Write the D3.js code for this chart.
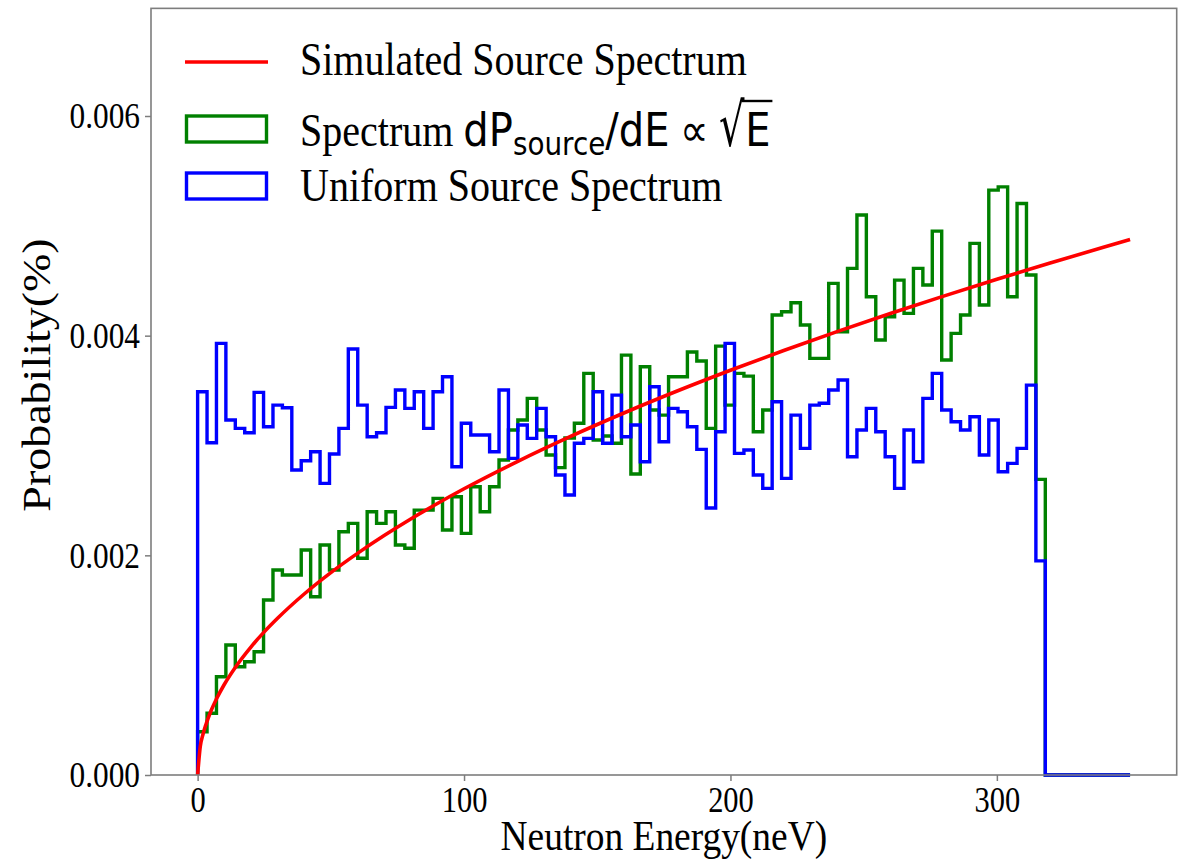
<!DOCTYPE html>
<html><head><meta charset="utf-8">
<script src="https://cdn.jsdelivr.net/npm/d3@7"></script>
<style>body{margin:0;background:#fff} svg{display:block}</style>
</head><body>
<svg id="chart" width="1180" height="860"></svg>
<script>
// ---------------- data ----------------
const xTicks = [0, 100, 200, 300];
const yTicks = [0, 0.002, 0.004, 0.006];
const yTickLabels = ["0.000", "0.002", "0.004", "0.006"];
const xLabel = "Neutron Energy(neV)";
const yLabel = "Probability(%)";
const seriesNames = ["Simulated Source Spectrum", "Spectrum", "Uniform Source Spectrum"];
const energyRange = [0, 350];
const binCount = 99;

// histogram heights per bin (0..350 neV, 99 bins)
const uniformSpectrum = [
0.003489,0.003025,0.003930,0.003232,0.003156,0.003116,0.003484,0.003171,0.003368,0.003344,
0.002777,0.002861,0.002943,0.002655,0.002922,0.003156,0.003878,0.003368,0.003080,0.003116,
0.003347,0.003505,0.003338,0.003489,0.003156,0.003489,0.003626,0.002807,0.003202,0.003095,
0.003095,0.002943,0.003505,0.002883,0.003186,0.003065,0.003338,0.003080,0.002731,0.002549,
0.003020,0.003065,0.003489,0.003020,0.003459,0.003080,0.003186,0.002852,0.003535,0.003034,
0.003338,0.003307,0.003171,0.002965,0.002431,0.003125,0.003930,0.002928,0.002959,0.002731,
0.002610,0.003398,0.002701,0.003277,0.002974,0.003368,0.003384,0.003505,0.003596,0.002898,
0.003141,0.003338,0.003125,0.002898,0.002610,0.003141,0.002852,0.003429,0.003657,0.003323,
0.003216,0.003141,0.003262,0.002913,0.003232,0.002761,0.002837,0.002974,0.003550,0.001950,
0,0,0,0,0,0,0,0,0];

const sqrtSpectrum = [
0.000394,0.000562,0.000895,0.001183,0.000986,0.001031,0.001122,0.001593,0.001866,0.001821,
0.001821,0.002048,0.001623,0.002094,0.001866,0.002215,0.002291,0.001973,0.002397,0.002291,
0.002397,0.002094,0.002064,0.002412,0.002412,0.002519,0.002230,0.002533,0.002200,0.002624,
0.002397,0.002624,0.002868,0.003141,0.003232,0.003429,0.003141,0.002913,0.002799,0.003068,
0.003202,0.003657,0.003050,0.003086,0.003020,0.003823,0.002740,0.003717,0.003323,0.003277,
0.003626,0.003626,0.003851,0.003769,0.003156,0.003905,0.003368,0.003657,0.003632,0.003125,
0.003323,0.004188,0.004218,0.004300,0.004097,0.003793,0.003793,0.004476,0.004035,0.004613,
0.005098,0.004354,0.003960,0.004172,0.004506,0.004203,0.004613,0.004461,0.004952,0.003778,
0.004021,0.004188,0.004840,0.004279,0.005325,0.005355,0.004354,0.005204,0.004552,0.002692,
0,0,0,0,0,0,0,0,0];

// simulated source spectrum (red curve)
const curveEnergy = [0,1,2,3,5,7,10,15,20,25,30,40,50,60,70,80,90,100,120,140,160,180,200,220,240,260,280,300,320,340,350];
const curveProb   = [0,0.000261,0.000369,0.000451,0.000583,0.000689,0.000824,0.001009,0.001165,0.001303,0.001427,
  0.001648,0.001843,0.002018,0.002180,0.002331,0.002472,0.002606,0.002854,0.003083,0.003296,0.003496,
  0.003685,0.003865,0.004037,0.004202,0.004360,0.004513,0.004661,0.004805,0.004875];

// ---------------- drawing ----------------
const SX = 0.87;                       // horizontal squeeze of the original image
const SERIF = "'Liberation Serif','Times New Roman',serif";
const SANS = "'DejaVu Sans',sans-serif";
const FRAME = "#7d7d7d";
const svg = d3.select("#chart");

const x = d3.scaleLinear().domain([-17.5, 367.5]).range([151, 1176.7]);
const y = d3.scaleLinear().domain([0, 0.006]).range([775, 116]);
const yTopVal = 0.00698;

const edges = d3.range(binCount + 1).map(i => energyRange[0] + i * (energyRange[1] - energyRange[0]) / binCount);

function stepPoints(vals) {
  const pts = [[edges[0], 0]];
  vals.forEach((v, i) => pts.push([edges[i], v]));
  pts.push([edges[binCount], vals[binCount - 1]]);
  pts.push([edges[binCount], 0]);
  return pts;
}
const stepLine = d3.line().x(d => x(d[0])).y(d => y(d[1])).curve(d3.curveStepAfter);

const plot = svg.append("g");
plot.append("path").attr("d", stepLine(stepPoints(sqrtSpectrum)))
  .attr("fill", "none").attr("stroke", "#008000").attr("stroke-width", 3.4).attr("stroke-linejoin", "miter");
plot.append("path").attr("d", stepLine(stepPoints(uniformSpectrum)))
  .attr("fill", "none").attr("stroke", "#0000ff").attr("stroke-width", 3.4).attr("stroke-linejoin", "miter");
const redLine = d3.line().x((d, i) => x(curveEnergy[i])).y((d, i) => y(curveProb[i])).curve(d3.curveMonotoneX);
plot.append("path").attr("d", redLine(curveEnergy))
  .attr("fill", "none").attr("stroke", "#ff0000").attr("stroke-width", 3.6).attr("stroke-linecap", "butt");

// frame
svg.append("rect").attr("x", x(-17.5)).attr("y", y(yTopVal))
  .attr("width", x(367.5) - x(-17.5)).attr("height", y(0) - y(yTopVal))
  .attr("fill", "none").attr("stroke", FRAME).attr("stroke-width", 1.6);

// x axis
const xAxis = svg.append("g").attr("transform", `translate(0,${y(0)})`)
  .call(d3.axisBottom(x).tickValues(xTicks).tickSize(6).tickFormat(d3.format("d")));
xAxis.select(".domain").remove();
xAxis.selectAll("line").attr("stroke", FRAME).attr("stroke-width", 1.5);
xAxis.selectAll("text").attr("y", 37).attr("dy", 0)
  .attr("transform", `scale(${SX},1)`)
  .style("font-family", SERIF).style("font-size", "35px").attr("fill", "#000");

// y axis
const yAxis = svg.append("g").attr("transform", `translate(${x(-17.5)},0)`)
  .call(d3.axisLeft(y).tickValues(yTicks).tickSize(6).tickFormat((d, i) => yTickLabels[i]));
yAxis.select(".domain").remove();
yAxis.selectAll("line").attr("stroke", FRAME).attr("stroke-width", 1.5);
yAxis.selectAll("text").attr("x", -11 / SX).attr("dy", "0.33em")
  .attr("transform", `scale(${SX},1)`)
  .style("font-family", SERIF).style("font-size", "36px").attr("fill", "#000");

// axis labels
svg.append("text").attr("transform", `translate(${(x(-17.5) + x(367.5)) / 2},850) scale(${SX},1)`)
  .attr("text-anchor", "middle").style("font-family", SERIF).style("font-size", "43px").text(xLabel);
svg.append("text").attr("transform", `translate(50,375) scale(${SX},1) rotate(-90)`)
  .attr("text-anchor", "middle").style("font-family", SERIF).style("font-size", "46px").text(yLabel);

// legend
const lg = svg.append("g");
lg.append("line").attr("x1", 185).attr("x2", 268).attr("y1", 62).attr("y2", 62)
  .attr("stroke", "#ff0000").attr("stroke-width", 3.6);
lg.append("rect").attr("x", 186.5).attr("y", 116).attr("width", 80).attr("height", 26)
  .attr("fill", "none").attr("stroke", "#008000").attr("stroke-width", 3.4);
lg.append("rect").attr("x", 186.5).attr("y", 173).attr("width", 80).attr("height", 26)
  .attr("fill", "none").attr("stroke", "#0000ff").attr("stroke-width", 3.4);

lg.append("text").attr("transform", `translate(300,75) scale(${SX},1)`)
  .style("font-family", SERIF).style("font-size", "46px").text(seriesNames[0]);
lg.append("text").attr("transform", `translate(300,201) scale(${SX},1)`)
  .style("font-family", SERIF).style("font-size", "46px").text(seriesNames[2]);

// mixed serif + math label
const row2 = lg.append("g").attr("transform", `translate(300,146) scale(${SX},1)`);
const pieces = [
  {text: seriesNames[1], font: SERIF, size: 46},
  {text: "dP", font: SANS, size: 46, gap: 11.5},
  {text: "source", font: SANS, size: 32, dy: 9},
  {text: "/dE", font: SANS, size: 46},
  {text: "\u221D", font: SANS, size: 46, gap: 12},
  {text: "\u221A", font: SANS, size: 46, gap: 12, sy: 1.3},
  {text: "E", font: SANS, size: 46, gap: 1}
];
let cx = 0;
pieces.forEach(p => {
  cx += p.gap || 0;
  const t = row2.append("text")
    .attr("transform", `translate(${cx},${p.dy || 0})` + (p.sy ? ` scale(1,${p.sy})` : ""))
    .style("font-family", p.font).style("font-size", p.size + "px").text(p.text);
  p.x0 = cx; p.w = t.node().getComputedTextLength();
  cx += p.w;
});
const rad = pieces[5], eP = pieces[6];
row2.append("line").attr("x1", rad.x0 + rad.w * 0.88).attr("x2", eP.x0 + eP.w + 2)
  .attr("y1", -45).attr("y2", -45).attr("stroke", "#000").attr("stroke-width", 2.4);
</script>
</body></html>
